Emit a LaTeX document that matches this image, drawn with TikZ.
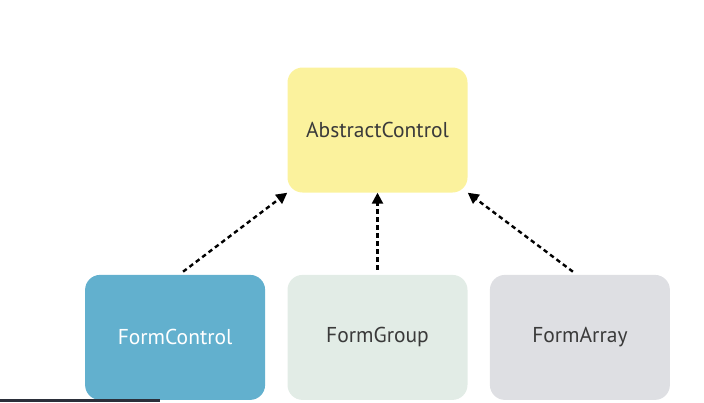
\documentclass[tikz,border=0pt]{standalone}
\usepackage{fontspec}
\setmainfont{PT Sans}
\usepackage{tikz}
\usetikzlibrary{arrows.meta,positioning}
\definecolor{AbstractColor}{HTML}{FBF29D}
\definecolor{ControlColor}{HTML}{62B0CE}
\definecolor{GroupColor}{HTML}{E2ECE6}
\definecolor{ArrayColor}{HTML}{DEDFE3}
\definecolor{TextGrey}{HTML}{3A3A3A}
\definecolor{BarColor}{HTML}{2B2F3A}

\begin{document}
\begin{tikzpicture}[x=1pt,y=-1pt,
  formbox/.style={rounded corners=15pt,minimum width=180pt,minimum height=125pt,
    text=TextGrey,font=\fontsize{21.5}{26}\selectfont},
  inherit/.style={line width=2.4pt,dash pattern=on 4.5pt off 3.5pt,
    -{Triangle[length=11pt,width=11pt]},shorten <=5pt}]
  \useasboundingbox (0,0) rectangle (704,402);
  \node[formbox,fill=AbstractColor] (ac) at (377.5,130){AbstractControl};
  \node[formbox,fill=GroupColor,below=82pt of ac] (fg){FormGroup};
  \node[formbox,fill=ControlColor,text=white,left=22pt of fg] (fc){FormControl};
  \node[formbox,fill=ArrayColor,right=22pt of fg] (fa){FormArray};
  \draw[inherit] ([xshift=4pt]fc.north) -- (ac.south west);
  \draw[inherit] (fg.north) -- (ac.south);
  \draw[inherit] ([xshift=-3pt]fa.north) -- (ac.south east);
  % strip at the lower edge
  \fill[BarColor] (0,399) rectangle (160,402);
\end{tikzpicture}
\end{document}
